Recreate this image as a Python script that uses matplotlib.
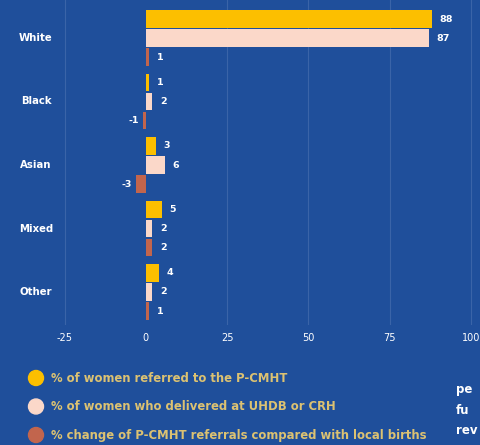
import matplotlib
matplotlib.use("Agg")
import matplotlib.pyplot as plt
import numpy as np

# ethnicity groups, top to bottom
groups = ["White", "Black", "Asian", "Mixed", "Other"]
referred = [88, 1, 3, 5, 4]
delivered = [87, 2, 6, 2, 2]
change = [1, -1, -3, 2, 1]

series_labels = [
    "% of women referred to the P-CMHT",
    "% of women who delivered at UHDB or CRH",
    "% change of P-CMHT referrals compared with local births",
]
ticks = [-25, 0, 25, 50, 75, 100]

BG = "#1f4f9b"
YELLOW = "#fcbf00"
PINK = "#fbd8c9"
BROWN = "#c2654d"
LEGEND_TXT = "#dcc272"

plt.rcParams["font.family"] = ["DejaVu Sans"]

fig = plt.figure(figsize=(4.8, 4.45), dpi=100)
fig.patch.set_facecolor(BG)

W, H = 480, 445
ax = fig.add_axes([50 / W, 1 - 325 / H, 430 / W, 325 / H])
ax.set_facecolor(BG)

y = np.arange(len(groups))
off = 0.3
h = 0.28
colors = [YELLOW, PINK, BROWN]
for k, vals in enumerate([referred, delivered, change]):
    ys = y + (k - 1) * off
    ax.barh(ys, vals, height=h, color=colors[k], zorder=3)
    for yy, v in zip(ys, vals):
        if v >= 0:
            ax.text(v + 2.3, yy, str(v), color="white", fontsize=6.8,
                    fontweight="bold", ha="left", va="center", zorder=4)
        else:
            ax.text(v - 1.2, yy, str(v), color="white", fontsize=6.8,
                    fontweight="bold", ha="right", va="center", zorder=4)

ax.set_xlim(-29.5, 102.8)
ax.set_ylim(4.52, -0.6)
ax.set_xticks(ticks)
ax.set_xticklabels([str(t) for t in ticks], color="white", fontsize=7)
ax.tick_params(axis="x", length=0, pad=6)
ax.set_yticks([])
for t in [-25, 25, 50, 75, 100]:
    ax.axvline(t, color="#3a64a8", lw=0.8, zorder=1)
for s in ax.spines.values():
    s.set_visible(False)

# group names on the left
for yy, name in zip(y, groups):
    fig.text(36 / W, 1 - (38 + 63.5 * yy) / H, name, color="white",
             fontsize=7.3, fontweight="bold", ha="center", va="center")

# legend with round markers
for k, lab in enumerate(series_labels):
    cy = 1 - (378 + 28.5 * k) / H
    fig.patches.append(matplotlib.patches.Ellipse(
        (36 / W, cy), 15 / W, 15 / H, transform=fig.transFigure,
        color=colors[k], zorder=5))
    fig.text(51 / W, cy, lab, color=LEGEND_TXT, fontsize=8.4,
             fontweight="bold", ha="left", va="center")

# start of the neighbouring text column
for k, word in enumerate(["pe", "fu", "rev"]):
    fig.text(456 / W, 1 - (390 + 20 * k) / H, word, color="white",
             fontsize=8.5, fontweight="bold", ha="left", va="center")

fig.savefig("out.png", dpi=100, facecolor=BG)
